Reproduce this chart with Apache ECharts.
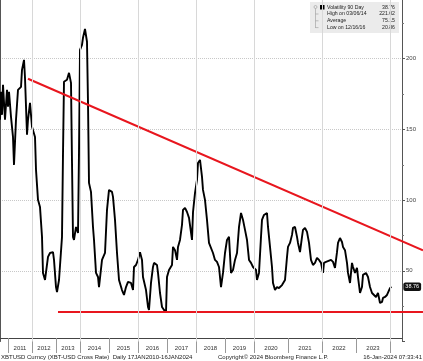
<!DOCTYPE html>
<html>
<head>
<meta charset="utf-8">
<title>XBTUSD Volatility 90 Day</title>
<script src="https://cdn.jsdelivr.net/npm/echarts@6/dist/echarts.min.js"></script>
<style>
  html, body { margin: 0; padding: 0; background: #fff; }
  #chart { width: 423px; height: 361px; }
</style>
</head>
<body>
<div id="chart"></div>
<script>
// x axis year labels
var yearLabels = ['2011', '2012', '2013', '2014', '2015', '2016', '2017',
  '2018', '2019', '2020', '2021', '2022', '2023'];
// relative width of each year 2010..2024 (chart is drawn per observation, early years are narrower)
var yearWidth = [24, 24, 24, 24, 29, 29, 29, 29, 29, 29, 34, 34, 34, 34, 34];

// 90 day volatility, date as decimal year
var volDates = [
  2010.667, 2010.708, 2010.75, 2010.792, 2010.875, 2010.958, 2011.0, 2011.042, 2011.125, 2011.208,
  2011.25, 2011.333, 2011.417, 2011.542, 2011.583, 2011.667, 2011.708, 2011.792, 2011.833, 2011.917,
  2012.0, 2012.125, 2012.167, 2012.25, 2012.333, 2012.417, 2012.458, 2012.542, 2012.625, 2012.667,
  2012.75, 2012.875, 2012.917, 2013.0, 2013.042, 2013.125, 2013.25, 2013.292, 2013.333, 2013.458,
  2013.542, 2013.625, 2013.667, 2013.708, 2013.75, 2013.833, 2013.917, 2013.958, 2014.0, 2014.069,
  2014.103, 2014.172, 2014.241, 2014.276, 2014.31, 2014.379, 2014.448, 2014.483, 2014.552, 2014.621,
  2014.655, 2014.759, 2014.862, 2014.931, 2015.0, 2015.103, 2015.138, 2015.207, 2015.276, 2015.345,
  2015.448, 2015.517, 2015.586, 2015.655, 2015.759, 2015.828, 2015.862, 2015.931, 2016.0, 2016.069,
  2016.138, 2016.172, 2016.276, 2016.345, 2016.379, 2016.448, 2016.517, 2016.552, 2016.655, 2016.69,
  2016.759, 2016.828, 2016.897, 2016.966, 2017.0, 2017.069, 2017.172, 2017.207, 2017.276, 2017.345,
  2017.379, 2017.448, 2017.517, 2017.552, 2017.621, 2017.69, 2017.759, 2017.862, 2017.897, 2017.966,
  2018.034, 2018.069, 2018.138, 2018.207, 2018.241, 2018.31, 2018.379, 2018.448, 2018.586, 2018.655,
  2018.724, 2018.793, 2018.862, 2018.931, 2019.0, 2019.069, 2019.138, 2019.207, 2019.276, 2019.345,
  2019.414, 2019.483, 2019.552, 2019.621, 2019.69, 2019.759, 2019.828, 2019.897, 2019.966, 2020.059,
  2020.088, 2020.147, 2020.206, 2020.235, 2020.294, 2020.382, 2020.412, 2020.471, 2020.529, 2020.559,
  2020.618, 2020.676, 2020.735, 2020.824, 2020.853, 2020.912, 2020.971, 2021.0, 2021.059, 2021.118,
  2021.147, 2021.206, 2021.265, 2021.294, 2021.353, 2021.412, 2021.441, 2021.5, 2021.559, 2021.618,
  2021.676, 2021.735, 2021.794, 2021.853, 2021.912, 2021.971, 2022.029, 2022.059, 2022.118, 2022.176,
  2022.265, 2022.324, 2022.382, 2022.441, 2022.471, 2022.529, 2022.588, 2022.618, 2022.676, 2022.735,
  2022.765, 2022.824, 2022.882, 2022.912, 2022.971, 2023.029, 2023.059, 2023.118, 2023.176, 2023.206,
  2023.294, 2023.353, 2023.412, 2023.471, 2023.529, 2023.588, 2023.647, 2023.706, 2023.765, 2023.794,
  2023.853, 2023.912, 2023.941, 2024.0, 2024.04
];
var volValues = [
  156.8, 176.6, 160.3, 181.5, 156.8, 178.0, 166.0, 176.6, 158.9, 144.7,
  124.9, 156.8, 178.0, 180.1, 192.1, 199.2, 186.5, 146.2, 156.8, 168.8,
  151.9, 144.7, 121.4, 100.2, 95.2, 74.0, 48.5, 43.5, 42.1, 59.8,
  62.6, 63.2, 57.7, 38.5, 35.0, 43.5, 74.0, 133.4, 183.7, 185.1,
  190.0, 182.9, 126.3, 74.0, 71.8, 81.0, 76.8, 133.4, 206.3, 209.8,
  214.8, 221.0, 212.0, 168.8, 112.2, 105.8, 81.0, 71.8, 48.5, 45.6,
  38.5, 57.7, 62.6, 93.1, 107.2, 105.8, 102.3, 86.0, 62.6, 43.5,
  36.4, 32.9, 38.5, 42.1, 41.4, 36.4, 52.7, 54.1, 57.7, 63.2,
  57.7, 45.6, 36.4, 24.4, 22.3, 41.4, 52.7, 55.6, 54.1, 48.5,
  34.3, 24.4, 22.3, 20.9, 45.6, 50.6, 54.1, 66.9, 64.6, 57.7,
  66.9, 71.8, 82.5, 93.1, 94.5, 91.6, 87.4, 71.8, 91.6, 105.1,
  114.3, 126.3, 128.4, 116.4, 107.2, 100.2, 86.0, 69.7, 62.6, 57.7,
  56.3, 52.7, 38.5, 48.5, 62.6, 71.8, 74.0, 48.5, 50.6, 57.7,
  62.6, 81.0, 90.9, 86.0, 78.9, 71.8, 57.7, 55.6, 52.7, 50.6,
  43.5, 48.5, 74.0, 86.0, 89.5, 90.9, 81.0, 66.9, 52.7, 41.4,
  36.4, 38.5, 37.8, 39.9, 38.5, 43.5, 59.8, 66.9, 69.7, 75.4,
  80.3, 81.0, 74.0, 69.7, 63.2, 74.0, 78.9, 80.3, 77.5, 69.7,
  57.7, 54.1, 55.6, 59.1, 57.7, 55.6, 48.5, 55.6, 56.3, 55.6,
  57.7, 56.3, 52.0, 63.2, 69.7, 73.2, 70.4, 66.9, 64.6, 55.6,
  48.5, 41.4, 55.6, 52.7, 48.5, 52.0, 45.6, 34.3, 38.5, 47.1,
  48.5, 45.6, 38.5, 34.3, 35.0, 31.5, 34.3, 27.2, 28.0, 30.8,
  31.5, 32.9, 34.3, 37.8, 38.76
];

// red lines drawn on the chart
var trendDates = [2011.833, 2024.97];
var trendValues = [185.8, 64.5];
var supportDates = [2013.083, 2024.97];
var supportValues = [20.86, 20.86];

// legend box
var statNames = ['Volatility 90 Day', 'High on 03/06/14', 'Average', 'Low on 12/16/16'];
var statValues = ['38.76', '221.02', '75.15', '20.86'];

// decimal year -> position on the axis
function pos(t) {
  var y = Math.floor(t);
  var i = y - 2010;
  var p = 0;
  for (var k = 0; k < i; k++) p += yearWidth[k];
  return p + (t - y) * yearWidth[i];
}

var volData = [];
for (var i = 0; i < volDates.length; i++) volData.push([pos(volDates[i]), volValues[i]]);
var trendData = [[pos(trendDates[0]), trendValues[0]], [pos(trendDates[1]), trendValues[1]]];
var supportData = [[pos(supportDates[0]), supportValues[0]], [pos(supportDates[1]), supportValues[1]]];

var yearTicks = [], labelPos = [], gridLines = [];
for (var j = 0; j < yearLabels.length; j++) {
  var yr = +yearLabels[j];
  yearTicks.push(pos(yr));
  labelPos.push(pos(yr + 0.5));
  if (yr % 2 === 0) gridLines.push({ xAxis: pos(yr) });
}
yearTicks.push(pos(2024));
gridLines.push({ xAxis: pos(2024) });

var xMin = 16, xMax = 418, xMax2 = 439;
var font = 'Liberation Sans';

var legendX = 310, legendY = 2;
var legendItems = [
  { type: 'rect', shape: { x: legendX, y: legendY, width: 89, height: 31 }, style: { fill: '#ebebeb' } },
  { type: 'circle', shape: { cx: legendX + 5.5, cy: legendY + 5, r: 1.5 }, style: { fill: 'none', stroke: '#999', lineWidth: 0.6 } },
  { type: 'line', shape: { x1: legendX + 5.5, y1: legendY + 6.5, x2: legendX + 5.5, y2: legendY + 26 }, style: { stroke: '#999', lineWidth: 0.6 } },
  { type: 'rect', shape: { x: legendX + 10, y: legendY + 3, width: 4.5, height: 4.5 }, style: { fill: '#000' } }
];
for (var s = 0; s < statNames.length; s++) {
  var ry = legendY + 5.2 + s * 6.8;
  if (s > 0) {
    legendItems.push({ type: 'line', shape: { x1: legendX + 5.5, y1: ry, x2: legendX + 8.5, y2: ry }, style: { stroke: '#999', lineWidth: 0.6 } });
  }
  legendItems.push({ type: 'text', style: { text: statNames[s], x: legendX + 17, y: ry, fontSize: 5.2, fontFamily: font, fill: '#222', verticalAlign: 'middle' } });
  legendItems.push({ type: 'text', style: { text: statValues[s], x: legendX + 85, y: ry, fontSize: 5.2, fontFamily: font, fill: '#222', align: 'right', verticalAlign: 'middle' } });
}

var footerStyle = { fontSize: 6, fontFamily: font, fill: '#222', verticalAlign: 'middle' };
var footer = [
  { type: 'text', style: Object.assign({ text: 'XBTUSD Curncy (XBT-USD Cross Rate)  Daily 17JAN2010-16JAN2024', x: 1, y: 357 }, footerStyle) },
  { type: 'text', style: Object.assign({ text: 'Copyright\u00a9 2024 Bloomberg Finance L.P.', x: 218, y: 357 }, footerStyle) },
  { type: 'text', style: Object.assign({ text: '16-Jan-2024 07:33:41', x: 422, y: 357, align: 'right' }, footerStyle) }
];

var myChart = echarts.init(document.getElementById('chart'));
var option = {
  animation: false,
  backgroundColor: '#fff',
  grid: [
    { left: 0, right: 21, top: -12, bottom: 19.5, outerBoundsMode: 'none' },
    { left: 0, right: 0, top: -12, bottom: 19.5, outerBoundsMode: 'none' }
  ],
  xAxis: [
    {
      gridIndex: 0, type: 'value', min: xMin, max: xMax, offset: -3.5,
      axisLine: { lineStyle: { color: '#444', width: 1 } },
      axisTick: { customValues: yearTicks, length: 15, lineStyle: { color: '#999' } },
      axisLabel: {
        customValues: labelPos, margin: 7, fontSize: 6, fontFamily: font, color: '#333',
        formatter: function (v) {
          for (var n = 0; n < labelPos.length; n++) {
            if (Math.abs(labelPos[n] - v) < 0.01) return yearLabels[n];
          }
          return '';
        }
      },
      splitLine: { show: false }
    },
    { gridIndex: 1, type: 'value', min: xMin, max: xMax2, show: false }
  ],
  yAxis: [
    {
      gridIndex: 0, type: 'value', position: 'right', min: 0, max: 250, interval: 50,
      axisLine: { show: true, lineStyle: { color: '#555' } },
      axisTick: { show: true, length: 3, lineStyle: { color: '#555' } },
      minorTick: { show: true, splitNumber: 2, length: 2, lineStyle: { color: '#777' } },
      axisLabel: { margin: 4, fontSize: 6, fontFamily: font, color: '#444', showMinLabel: false },
      splitLine: { show: true, showMinLine: false, lineStyle: { color: '#c8c8c8', type: 'dotted' } }
    },
    {
      gridIndex: 0, type: 'value', position: 'left', min: 0, max: 250,
      axisLine: { show: true, lineStyle: { color: '#555' } },
      axisTick: { show: false }, axisLabel: { show: false }, splitLine: { show: false }
    },
    { gridIndex: 1, type: 'value', min: 0, max: 250, show: false }
  ],
  series: [
    {
      // vertical grid lines every other year
      type: 'line', xAxisIndex: 0, yAxisIndex: 0, data: [], z: 1,
      markLine: {
        silent: true, symbol: 'none', label: { show: false },
        lineStyle: { color: '#d8d8d8', type: 'solid', width: 1 },
        data: gridLines
      }
    },
    {
      name: 'Volatility 90 Day', type: 'line', xAxisIndex: 0, yAxisIndex: 0, z: 3,
      data: volData, showSymbol: false,
      lineStyle: { color: '#000', width: 1.9 },
      endLabel: {
        show: true, distance: 12,
        formatter: function (p) { return p.value[1].toFixed(2); },
        backgroundColor: '#111', color: '#fff', fontSize: 5.5, fontFamily: font,
        padding: [1.5, 2, 1, 2], borderRadius: 2
      }
    },
    {
      type: 'line', xAxisIndex: 1, yAxisIndex: 2, z: 4, data: trendData, showSymbol: false,
      lineStyle: { color: '#e8161e', width: 2 }
    },
    {
      type: 'line', xAxisIndex: 1, yAxisIndex: 2, z: 4, data: supportData, showSymbol: false,
      lineStyle: { color: '#e8161e', width: 2 }
    }
  ],
  graphic: legendItems.concat(footer)
};
myChart.setOption(option);
</script>
</body>
</html>
